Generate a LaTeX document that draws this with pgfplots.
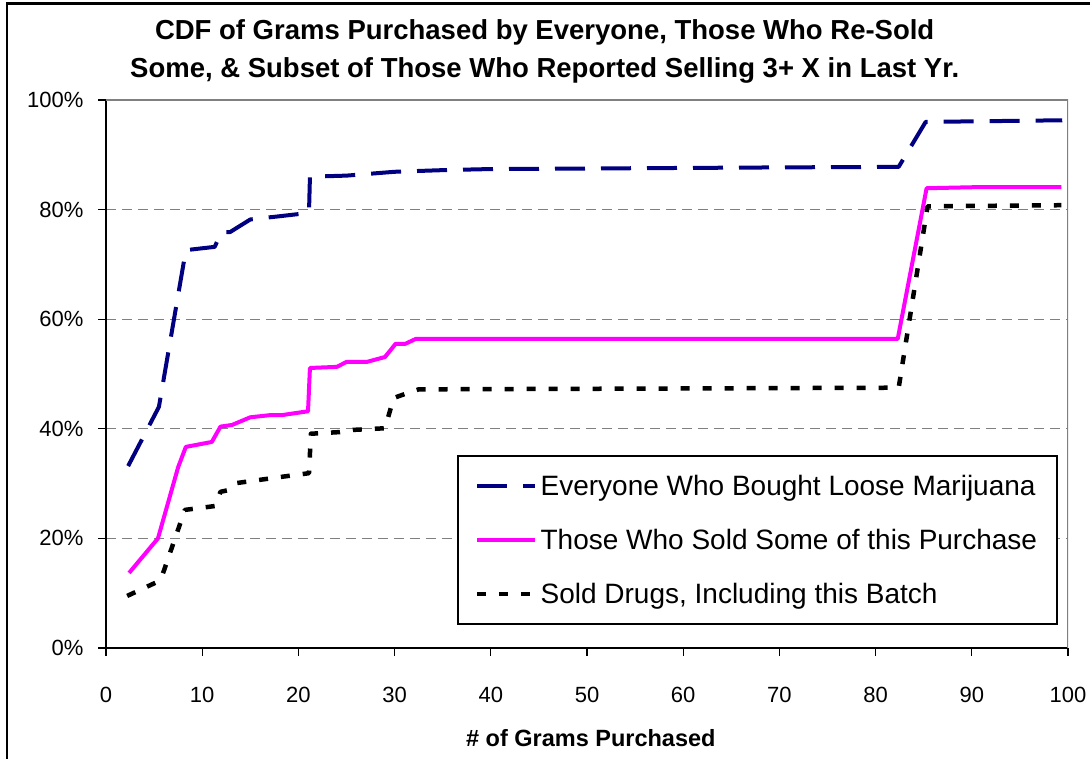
\documentclass[border=0pt]{standalone}
\usepackage{pgfplots}
\pgfplotsset{compat=1.18}
\usepackage{fontspec}
\setmainfont{Liberation Sans}
\definecolor{navyline}{RGB}{0,0,128}
\definecolor{magline}{RGB}{255,0,255}
\definecolor{gridgray}{RGB}{128,128,128}
\begin{document}
\begin{tikzpicture}[x=1pt,y=1pt]
\path[use as bounding box] (0,0) rectangle (1090,758);
\draw[line width=2.2pt] (7,-3) -- (7,754.5) -- (1093,754.5);
\begin{axis}[
  at={(106pt,110pt)}, anchor=south west,
  scale only axis, width=962pt, height=548pt,
  xmin=0, xmax=100, ymin=0, ymax=100,
  axis x line=bottom, axis y line=left,
  axis line style={-, black, line width=1.4pt},
  xtick={0,10,...,100}, ytick={0,20,...,100},
  tick align=outside, major tick length=8pt,
  tick style={black, line width=1.2pt},
  ymajorgrids,
  grid style={gridgray, line width=1.2pt, dash pattern=on 10pt off 6pt},
  /pgf/number format/assume math mode=true,
  tick label style={font=\fontsize{22}{26}\selectfont},
  yticklabel={\pgfmathprintnumber{\tick}\%},
  xticklabel style={yshift=-28pt},
  yticklabel style={xshift=-11pt},
  title={CDF of Grams Purchased by Everyone, Those Who Re-Sold\\Some, \& Subset of Those Who Reported Selling 3+ X in Last Yr.},
  title style={at={(axis description cs:0.456,1.0785)}, anchor=center, align=center, font=\fontsize{27.5}{38}\selectfont\bfseries},
  xlabel={\# of Grams Purchased},
  xlabel style={at={(axis description cs:0.504,0)}, anchor=center, yshift=-90pt, font=\fontsize{23.5}{28}\selectfont\bfseries},
  legend style={at={(rel axis cs:0.365,0.042)}, anchor=south west,
    draw=black, line width=2pt, inner xsep=17pt, inner ysep=15.5pt,
    row sep=25.5pt, column sep=0pt,
    nodes={inner sep=3pt},
    font=\fontsize{28}{30}\selectfont},
  legend cell align=left,
  legend image code/.code={\draw[#1] (0pt,0pt) -- (58pt,0pt);},
]
\addplot[navyline, line width=4pt, dash pattern=on 30pt off 16pt, line join=round] coordinates {
(2.3,33.2) (5.5,44.0) (8.3,72.6) (11.3,73.2) (12.0,75.9) (12.9,75.9) (15,78.2) (18.1,78.8) (21.1,79.4) (21.2,86.0) (25,86.2) (30,86.9) (35,87.2) (40,87.4) (50,87.5) (60,87.6) (70,87.7) (82.4,87.8) (85.2,96.0) (90,96.1) (99.4,96.3)
};
\addlegendentry{Everyone Who Bought Loose Marijuana\strut}
\addplot[magline, line width=4pt, line join=round] coordinates {
(2.4,13.7) (5.4,20.0) (7.5,33.0) (8.3,36.7) (11.0,37.6) (11.9,40.4) (13.1,40.7) (15,42.1) (17.1,42.5) (18.3,42.5) (21.0,43.2) (21.2,51.1) (24,51.3) (25,52.2) (27.1,52.2) (29,53.1) (30.1,55.5) (31.1,55.5) (32.2,56.4) (82.3,56.4) (85.3,83.9) (90.6,84.1) (99.3,84.1)
};
\addlegendentry{Those Who Sold Some of this Purchase\strut\hspace{13pt}}
\addplot[black, line width=4.5pt, dash pattern=on 9pt off 13pt, line join=round] coordinates {
(2.2,9.5) (5.5,12.2) (5.8,13.0) (8.2,25.2) (11.3,25.9) (11.9,28.5) (12.7,28.8) (13.6,30.1) (18.1,31.2) (21.1,31.9) (21.3,39.1) (24.3,39.4) (25.7,39.8) (29.0,40.1) (29.9,45.6) (30.5,46.0) (32.5,47.2) (50,47.3) (82.4,47.5) (85.4,80.6) (99.3,80.8)
};
\addlegendentry{Sold Drugs, Including this Batch\strut}
\draw[gridgray, line width=1.4pt] (rel axis cs:0,1) -- (rel axis cs:1,1) -- (rel axis cs:1,0);
\end{axis}
\end{tikzpicture}
\end{document}
